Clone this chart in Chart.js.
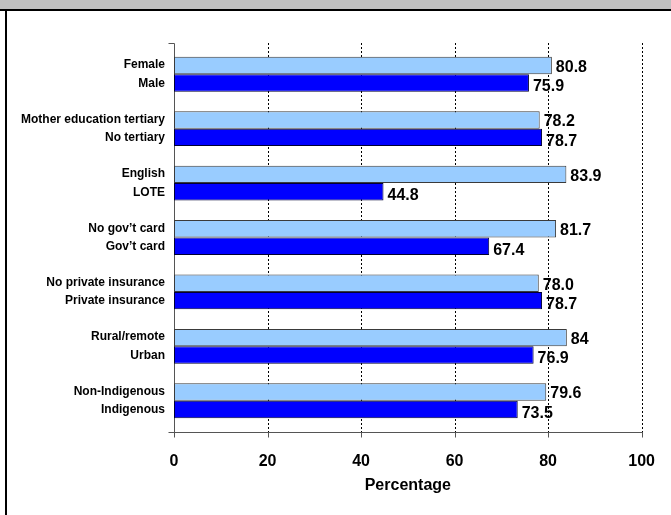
<!DOCTYPE html>
<html>
<head>
<meta charset="utf-8">
<script src="https://cdn.jsdelivr.net/npm/chart.js@4"></script>
<style>
  html, body { margin: 0; padding: 0; background: #fff; }
  #wrap { position: relative; width: 671px; height: 515px; overflow: hidden; }
  #band { position: absolute; left: 0; top: 0; width: 671px; height: 9px; background: #c0c0c0; border-bottom: 2px solid #000; }
  #lborder { position: absolute; left: 5px; top: 9px; width: 2px; height: 506px; background: #000; }
  canvas { position: absolute; left: 0; top: 0; }
</style>
</head>
<body>
<div id="wrap">
  <div id="band"></div>
  <div id="lborder"></div>
  <canvas id="chart" width="671" height="515"></canvas>
</div>
<script>
const firstLabels = ["Female", "Mother education tertiary", "English", "No gov\u2019t card", "No private insurance", "Rural/remote", "Non-Indigenous"];
const secondLabels = ["Male", "No tertiary", "LOTE", "Gov\u2019t card", "Private insurance", "Urban", "Indigenous"];
const firstValues = [80.8, 78.2, 83.9, 81.7, 78.0, 84, 79.6];
const secondValues = [75.9, 78.7, 44.8, 67.4, 78.7, 76.9, 73.5];
const firstText = ["80.8", "78.2", "83.9", "81.7", "78.0", "84", "79.6"];
const secondText = ["75.9", "78.7", "44.8", "67.4", "78.7", "76.9", "73.5"];
const xTicks = [0, 20, 40, 60, 80, 100];

const labels = firstLabels.map((l, i) => [l, secondLabels[i]]);

// gridlines, axis lines and value labels drawn in Excel style
const decor = {
  id: "decor",
  beforeDatasetsDraw(chart) {
    const { ctx, chartArea: a, scales: { x } } = chart;
    const top = a.top - 4, bot = a.bottom + 4;
    const line = (x1, y1, x2, y2) => { ctx.beginPath(); ctx.moveTo(x1, y1); ctx.lineTo(x2, y2); ctx.stroke(); };
    ctx.save();
    ctx.lineWidth = 1;
    ctx.strokeStyle = "#000";
    ctx.setLineDash([2, 2]);
    xTicks.slice(1).forEach(v => {
      const px = Math.round(x.getPixelForValue(v)) + 0.5;
      line(px, top, px, bot);
    });
    ctx.setLineDash([]);
    ctx.strokeStyle = "#555";
    const x0 = Math.round(x.getPixelForValue(0)) + 0.5;
    const yb = Math.round(bot) + 0.5;
    const yt = Math.round(top) + 0.5;
    line(x0, yt, x0, yb);
    line(x0 - 6, yt, x0, yt);
    line(x0 - 6, yb, Math.round(x.getPixelForValue(100)) + 1, yb);
    xTicks.forEach(v => {
      const px = Math.round(x.getPixelForValue(v)) + 0.5;
      line(px, yb, px, yb + 5);
    });
    ctx.restore();
  },
  afterDatasetsDraw(chart) {
    const { ctx } = chart;
    ctx.save();
    ctx.font = "bold 16px Arial, 'Liberation Sans'";
    ctx.fillStyle = "#000";
    ctx.textBaseline = "middle";
    ctx.textAlign = "left";
    [firstText, secondText].forEach((texts, d) => {
      const meta = chart.getDatasetMeta(d);
      meta.data.forEach((bar, i) => {
        ctx.fillText(texts[i], bar.x + 4, bar.y + (d === 0 ? 2 : 4));
      });
    });
    ctx.restore();
  }
};

new Chart(document.getElementById("chart"), {
  type: "bar",
  data: {
    labels: labels,
    datasets: [
      {
        data: firstValues,
        backgroundColor: "#99ccff",
        borderColor: "#3a3a3a",
        borderWidth: 1,
        borderSkipped: false,
        categoryPercentage: 0.64,
        barPercentage: 1
      },
      {
        data: secondValues,
        backgroundColor: "#0000ff",
        borderColor: "#000033",
        borderWidth: 1,
        borderSkipped: false,
        categoryPercentage: 0.64,
        barPercentage: 1
      }
    ]
  },
  options: {
    indexAxis: "y",
    responsive: false,
    animation: false,
    layout: { padding: { top: 47, right: 25, bottom: 0, left: 0 } },
    plugins: {
      legend: { display: false },
      tooltip: { enabled: false }
    },
    scales: {
      y: {
        type: "category",
        offset: true,
        grid: { display: false },
        border: { display: false },
        ticks: {
          color: "#000",
          padding: 1,
          font: { family: "Arial, 'Liberation Sans'", size: 12, weight: "bold", lineHeight: "18.5px" }
        },
        afterFit: s => { s.width = 174; }
      },
      x: {
        min: 0,
        max: 100,
        grid: { display: false },
        border: { display: false },
        ticks: {
          stepSize: 20,
          color: "#000",
          padding: 16,
          maxRotation: 0,
          font: { family: "Arial, 'Liberation Sans'", size: 16, weight: "bold" }
        },
        title: {
          display: true,
          text: "Percentage",
          color: "#000",
          padding: { top: 0, bottom: 20 },
          font: { family: "Arial, 'Liberation Sans'", size: 16, weight: "bold" }
        },
        afterFit: s => { s.height = 87; }
      }
    }
  },
  plugins: [decor]
});
</script>
</body>
</html>
